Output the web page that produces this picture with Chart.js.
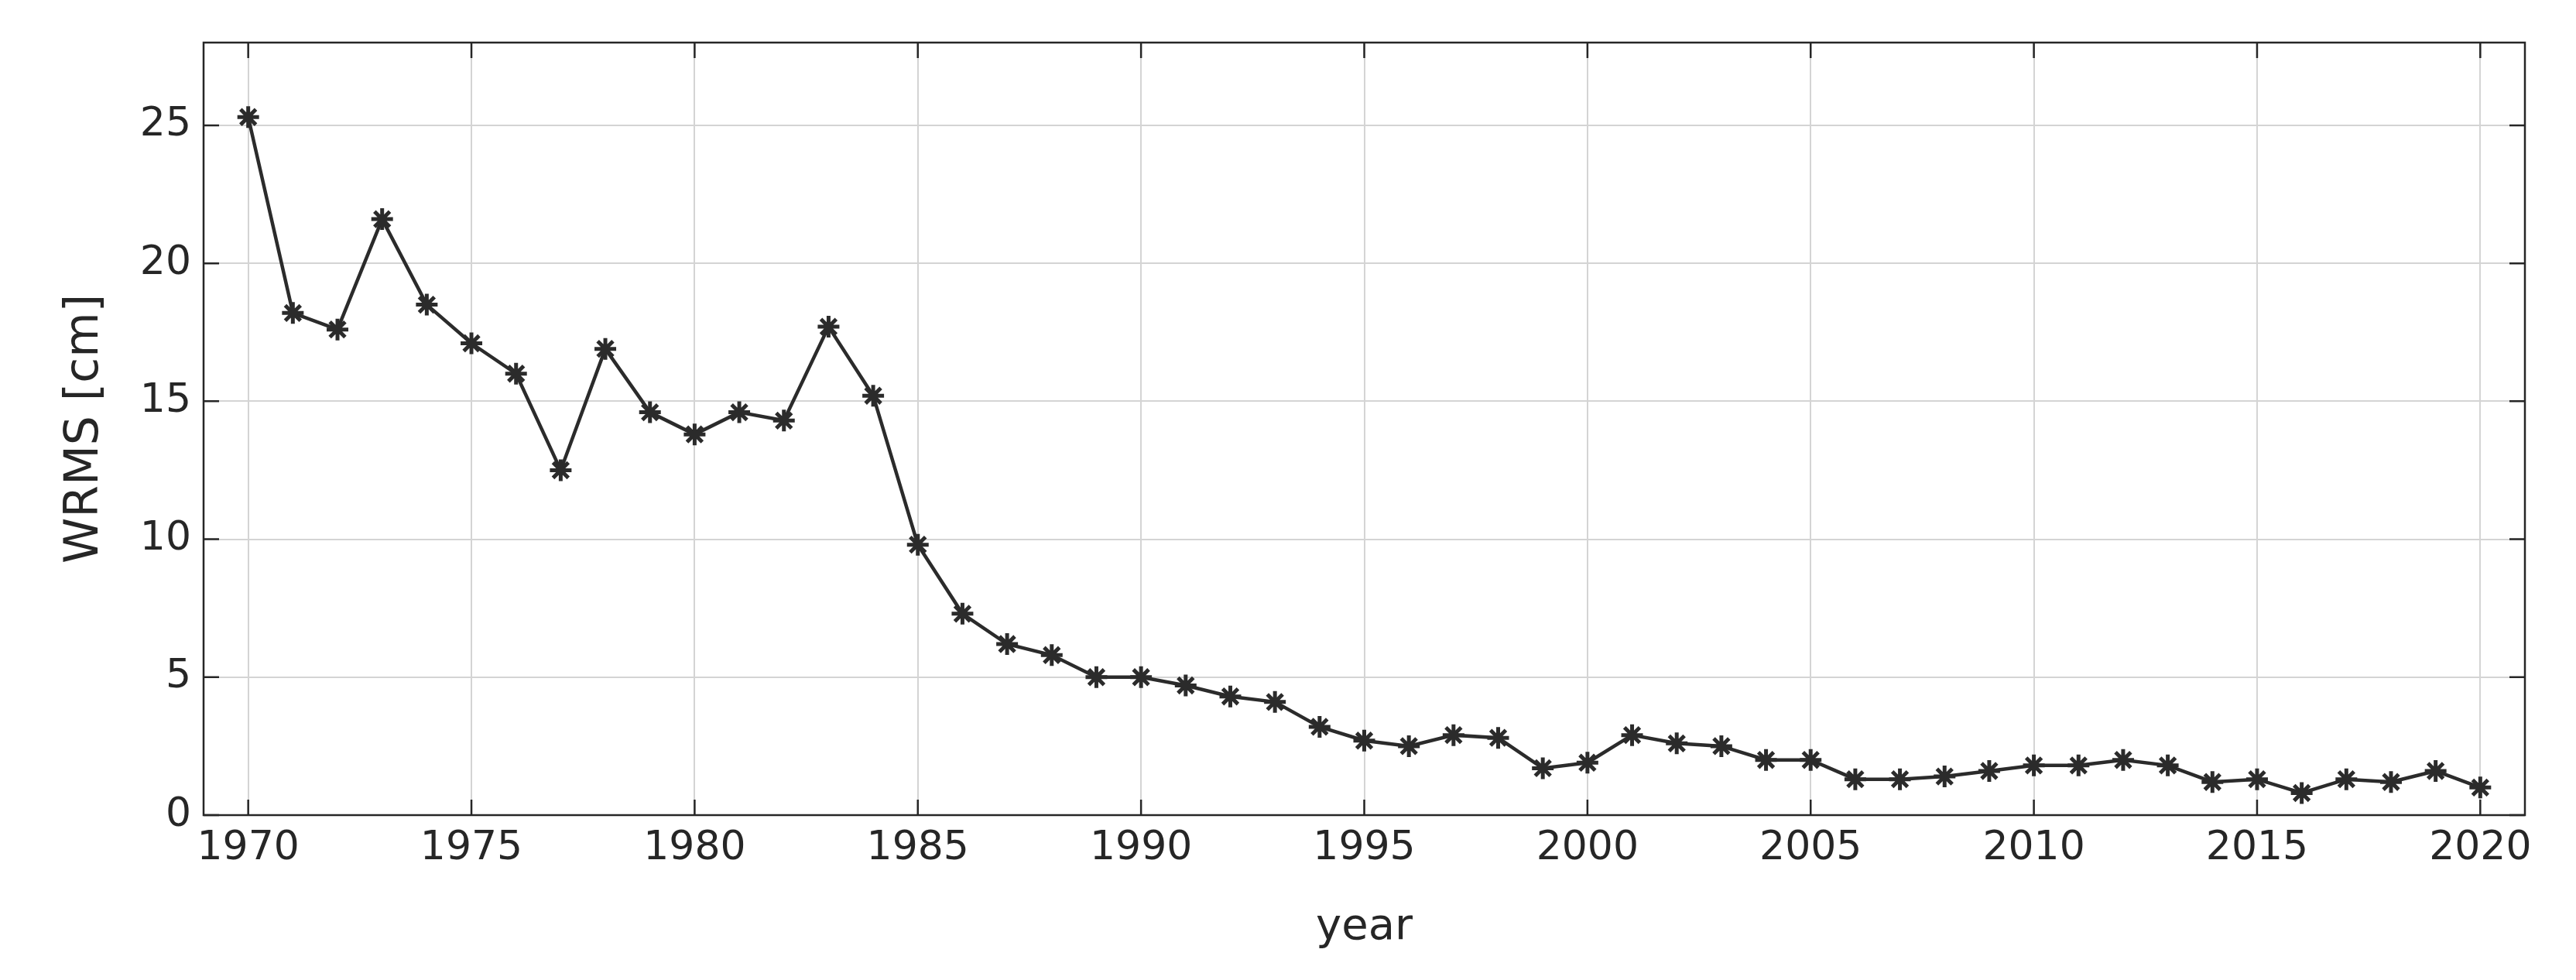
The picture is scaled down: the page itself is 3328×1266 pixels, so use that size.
<!DOCTYPE html>
<html>
<head>
<meta charset="utf-8">
<script src="https://cdn.jsdelivr.net/npm/chart.js@4"></script>
<style>
html, body { margin: 0; padding: 0; background: #fff; }
#wrap { width: 3328px; height: 1266px; }
</style>
</head>
<body>
<div id="wrap"><canvas id="wrmsChart"></canvas></div>
<script>
const years = [1970,1971,1972,1973,1974,1975,1976,1977,1978,1979,1980,1981,1982,1983,1984,1985,1986,1987,1988,1989,1990,
  1991,1992,1993,1994,1995,1996,1997,1998,1999,2000,2001,2002,2003,2004,2005,2006,2007,2008,2009,2010,
  2011,2012,2013,2014,2015,2016,2017,2018,2019,2020];
const wrms = [25.3,18.2,17.6,21.6,18.5,17.1,16.0,12.5,16.9,14.6,13.8,14.6,14.3,17.7,15.2,9.8,7.3,6.2,5.8,5.0,5.0,
  4.7,4.3,4.1,3.2,2.7,2.5,2.9,2.8,1.7,1.9,2.9,2.6,2.5,2.0,2.0,1.3,1.3,1.4,1.6,1.8,
  1.8,2.0,1.8,1.2,1.3,0.8,1.3,1.2,1.6,1.0];
const xTicks = [1970,1975,1980,1985,1990,1995,2000,2005,2010,2015,2020];
const yTicks = [0,5,10,15,20,25];

const FONT = 'DejaVu Sans, Liberation Sans, sans-serif';

// MATLAB-style box with inward ticks
const boxPlugin = {
  id: 'box',
  afterDraw(chart) {
    const { ctx, chartArea: a, scales } = chart;
    ctx.save();
    ctx.strokeStyle = '#262626';
    ctx.lineWidth = 2.5;
    ctx.strokeRect(a.left, a.top, a.right - a.left, a.bottom - a.top);
    const len = 20;
    ctx.beginPath();
    xTicks.forEach(v => {
      const x = scales.x.getPixelForValue(v);
      ctx.moveTo(x, a.bottom); ctx.lineTo(x, a.bottom - len);
      ctx.moveTo(x, a.top); ctx.lineTo(x, a.top + len);
    });
    yTicks.forEach(v => {
      const y = scales.y.getPixelForValue(v);
      ctx.moveTo(a.left, y); ctx.lineTo(a.left + len, y);
      ctx.moveTo(a.right, y); ctx.lineTo(a.right - len, y);
    });
    ctx.stroke();
    ctx.restore();
  }
};

new Chart(document.getElementById('wrmsChart'), {
  type: 'line',
  data: {
    datasets: [{
      data: years.map((y, i) => ({ x: y, y: wrms[i] })),
      borderColor: '#2b2b2b',
      borderWidth: 4.5,
      pointStyle: 'star',
      pointRadius: 14,
      pointBorderWidth: 5,
      pointBorderColor: '#2b2b2b',
      tension: 0
    }]
  },
  options: {
    responsive: true,
    maintainAspectRatio: false,
    animation: false,
    layout: { padding: { top: 55, right: 66, left: 70, bottom: 30 } },
    plugins: { legend: { display: false }, tooltip: { enabled: false } },
    scales: {
      x: {
        type: 'linear',
        min: 1969,
        max: 2021,
        afterBuildTicks(scale) { scale.ticks = xTicks.map(v => ({ value: v })); },
        afterFit(scale) { scale.height = 183; },
        grid: { color: '#d4d4d4', lineWidth: 2, drawTicks: false },
        border: { display: false },
        ticks: { color: '#262626', padding: 12, font: { family: FONT, size: 52 }, callback: v => String(v) },
        title: { display: true, text: 'year', color: '#262626', font: { family: FONT, size: 56 }, padding: { top: 0 } }
      },
      y: {
        min: 0,
        max: 28,
        afterBuildTicks(scale) { scale.ticks = yTicks.map(v => ({ value: v })); },
        afterFit(scale) { scale.width = 193; },
        grid: { color: '#d4d4d4', lineWidth: 2, drawTicks: false },
        border: { display: false },
        ticks: { color: '#262626', padding: 16, font: { family: FONT, size: 52 } },
        title: { display: true, text: 'WRMS [cm]', color: '#262626', font: { family: FONT, size: 60 }, padding: { bottom: 0 } }
      }
    }
  },
  plugins: [boxPlugin]
});
</script>
</body>
</html>
